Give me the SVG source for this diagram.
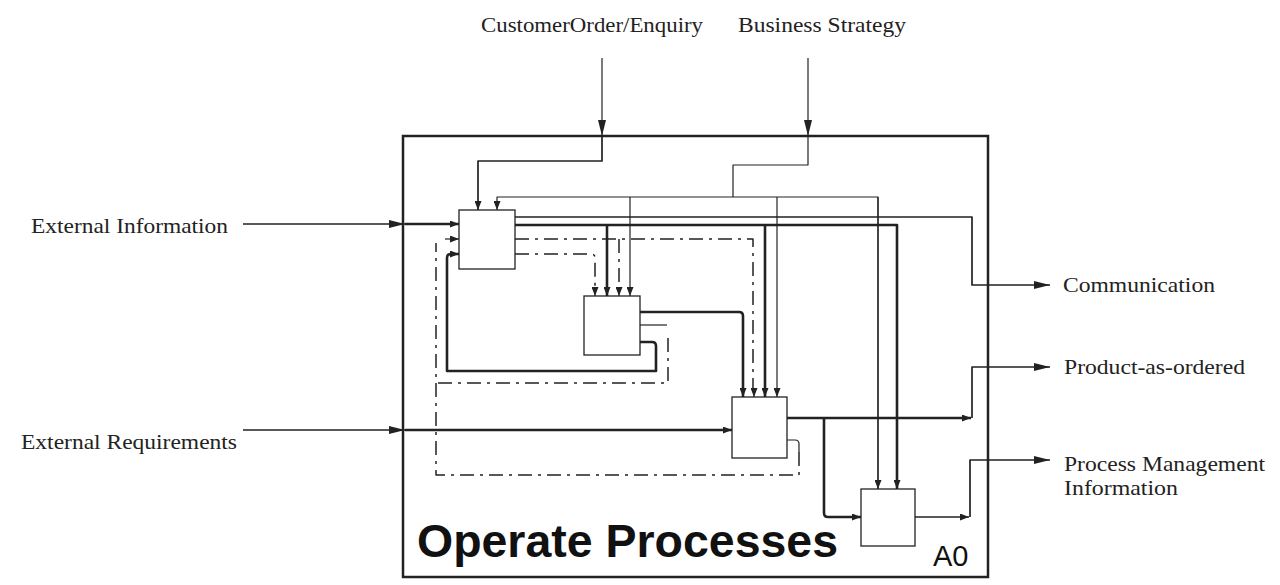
<svg xmlns="http://www.w3.org/2000/svg" width="1280" height="585" viewBox="0 0 1280 585">
<style>
.lbl{font-family:"Liberation Serif","Times New Roman",serif;font-size:21px;fill:#222}
.title{font-family:"Liberation Sans",Arial,sans-serif;font-weight:bold;font-size:47px;fill:#111}
.a0{font-family:"Liberation Sans",Arial,sans-serif;font-size:29px;fill:#111}
.box{fill:#fff;stroke:#222;stroke-width:1.3}
.c{fill:none;stroke:#222;stroke-linejoin:round}
.thin{stroke-width:1.2}
.med{stroke-width:1.7}
.thick{stroke-width:2.6}
.dd{stroke-width:1.5;stroke-dasharray:14 6 3 6}
</style>
<defs>
<marker id="s" markerUnits="userSpaceOnUse" markerWidth="9" markerHeight="7" refX="9" refY="3.5" orient="auto"><path d="M0,0 L9,3.5 L0,7 Z" fill="#222"/></marker>
<marker id="b" markerUnits="userSpaceOnUse" markerWidth="16" markerHeight="8" refX="16" refY="4" orient="auto"><path d="M0,0 L16,4 L0,8 Z" fill="#222"/></marker>
</defs>
<g id="frame">
<rect x="403" y="136" width="585" height="441" fill="#fff" stroke="#222" stroke-width="2.5"/>
<text class="title" x="417" y="557" textLength="421" lengthAdjust="spacingAndGlyphs">Operate Processes</text>
<text class="a0" x="933" y="566">A0</text>
</g>
<g id="labels">
<text class="lbl" x="481" y="32" textLength="222" lengthAdjust="spacingAndGlyphs">CustomerOrder/Enquiry</text>
<text class="lbl" x="738" y="32" textLength="168" lengthAdjust="spacingAndGlyphs">Business Strategy</text>
<text class="lbl" x="31" y="233" textLength="197" lengthAdjust="spacingAndGlyphs">External Information</text>
<text class="lbl" x="21" y="449" textLength="216" lengthAdjust="spacingAndGlyphs">External Requirements</text>
<text class="lbl" x="1063" y="292" textLength="152" lengthAdjust="spacingAndGlyphs">Communication</text>
<text class="lbl" x="1064" y="374" textLength="181" lengthAdjust="spacingAndGlyphs">Product-as-ordered</text>
<text class="lbl" x="1064" y="471" textLength="201" lengthAdjust="spacingAndGlyphs">Process Management</text>
<text class="lbl" x="1064" y="495" textLength="114" lengthAdjust="spacingAndGlyphs">Information</text>
</g>
<g id="connectors">
<!-- external inputs -->
<path class="c thin" d="M602,58 V136" marker-end="url(#b)"/>
<path class="c thin" d="M808,58 V136" marker-end="url(#b)"/>
<path class="c med" d="M243,224 H405" marker-end="url(#b)"/>
<path class="c med" d="M243,430 H405" marker-end="url(#b)"/>
<!-- customer order to box1 -->
<path class="c med" d="M602,136 V161 H478 V210" marker-end="url(#s)"/>
<!-- business strategy controls -->
<path class="c thin" d="M808,136 V165 H733 V197"/>
<path class="c thin" d="M878,489 V197 H497 V210" marker-end="url(#s)"/>
<path class="c thin" d="M878,197 V489" marker-end="url(#s)"/>
<path class="c thin" d="M630,197 V296" marker-end="url(#s)"/>
<path class="c thin" d="M777,197 V397" marker-end="url(#s)"/>
<!-- external info into box1 -->
<path class="c thick" d="M405,224 H459" marker-end="url(#s)"/>
<!-- box1 outputs -->
<path class="c med" d="M515,217 H972 V285 H1050" marker-end="url(#b)"/>
<path class="c thick" d="M515,225 H897 V489" marker-end="url(#s)"/>
<path class="c thick" d="M607,225 V296" marker-end="url(#s)"/>
<path class="c thick" d="M765,225 V397" marker-end="url(#s)"/>
<path class="c dd" d="M515,239 H753 V393"/>
<path class="c thin" d="M754,390 V397" marker-end="url(#s)"/>
<path class="c dd" d="M619,239 V292"/>
<path class="c thin" d="M619,290 V296" marker-end="url(#s)"/>
<path class="c dd" d="M515,254 H591 Q595,254 595,258 V292"/>
<path class="c thin" d="M595,290 V296" marker-end="url(#s)"/>
<!-- box2 outputs -->
<path class="c thick" d="M640,312 H739 Q743,312 743,316 V397" marker-end="url(#s)"/>
<path class="c thin" d="M640,325 H667"/>
<path class="c dd" d="M668,338 V383 H436"/>
<path class="c thick" d="M640,342 H652 Q656,342 656,346 V371 H447 V258 Q447,254 451,254 H459" marker-end="url(#s)"/>
<!-- feedback dash-dot -->
<path class="c thin" d="M787,440 H795 Q799,440 799,444 V452"/>
<path class="c dd" d="M799,452 V475 H436 V243"/>
<path class="c thin" d="M445,239 H459" marker-end="url(#s)"/>
<!-- external requirements into box3 -->
<path class="c thick" d="M405,430 H732" marker-end="url(#s)"/>
<!-- box3 outputs -->
<path class="c thick" d="M787,418 H971" marker-end="url(#s)"/>
<path class="c med" d="M972,418 V367 H1050" marker-end="url(#b)"/>
<path class="c thick" d="M824,418 V513 Q824,517 828,517 H861" marker-end="url(#s)"/>
<!-- box4 output -->
<path class="c med" d="M915,517 H969" marker-end="url(#s)"/>
<path class="c med" d="M970,517 V460 H1050" marker-end="url(#b)"/>
</g>
<g id="box1"><rect class="box" x="459" y="210" width="56" height="59"/></g>
<g id="box2"><rect class="box" x="584" y="296" width="56" height="59"/></g>
<g id="box3"><rect class="box" x="732" y="397" width="55" height="61"/></g>
<g id="box4"><rect class="box" x="861" y="489" width="54" height="57"/></g>
</svg>
